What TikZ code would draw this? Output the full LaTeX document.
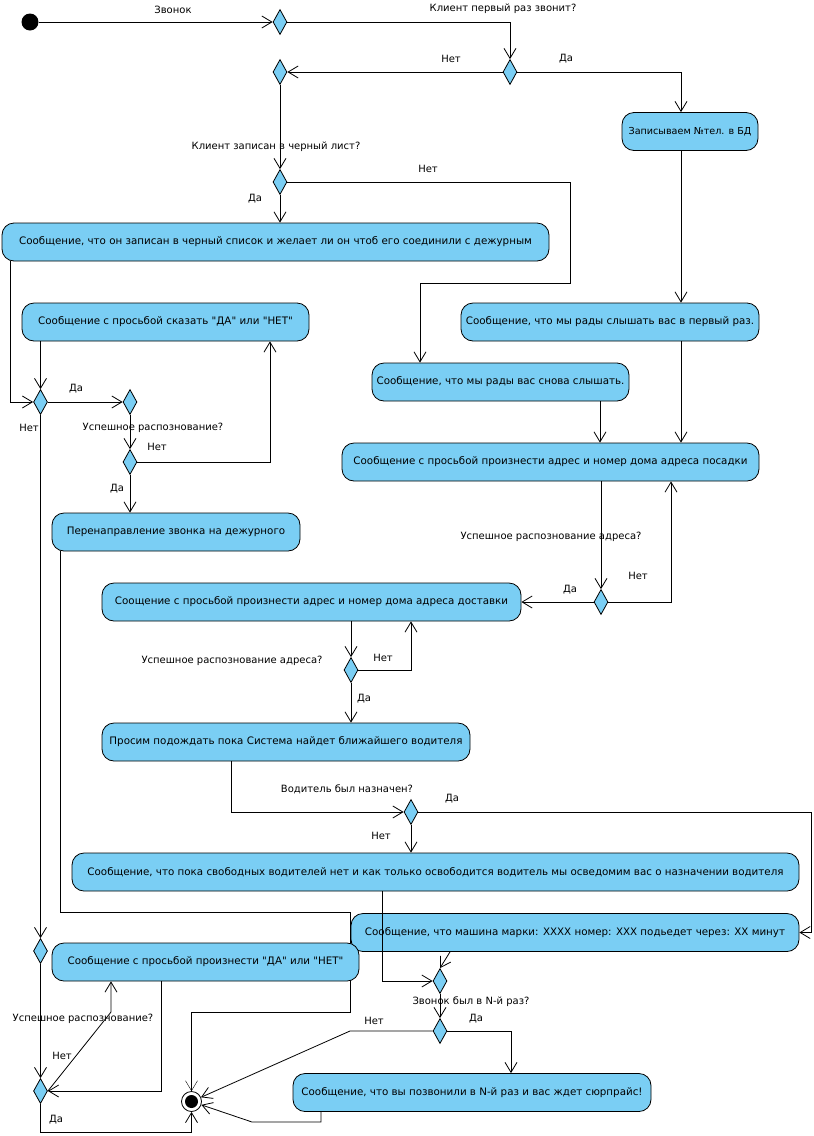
\documentclass[tikz,border=0pt]{standalone}
\usepackage{fontspec}
\setmainfont{DejaVu Sans}[Ligatures=TeXOff]
\usetikzlibrary{shapes.geometric,arrows.meta,backgrounds}
\definecolor{actblue}{RGB}{122,206,244}

\begin{document}
\begin{tikzpicture}[x=1pt,y=-1pt,line width=0.8pt,
  act/.style={draw, fill=actblue, rounded corners=12pt, minimum height=38pt, inner sep=0pt, font=\fontsize{10.3}{12}\selectfont},
  dec/.style={diamond, draw, fill=actblue, minimum width=14pt, minimum height=25pt, inner sep=0pt},
  flow/.style={-{Straight Barb[length=10pt,width=12pt]}},
  guard/.style={inner sep=1pt, font=\fontsize{10}{11}\selectfont}]
  \useasboundingbox (0,0) rectangle (814,1136);

  \node[circle, fill=black, minimum size=17pt, inner sep=0pt] (init) at (30,22) {};
  \node[circle, draw, fill=white, minimum size=20pt, inner sep=0pt] (done) at (191.5,1101.5) {};
  \fill (done.center) circle (6.5pt);

  \node[dec] (qcall)    at (280,22) {};
  \node[dec] (qfirst)   at (510,72) {};
  \node[dec] (qmerge)   at (280,72) {};
  \node[dec] (qblack)   at (280,182) {};
  \node[dec] (qans)     at (40.5,402) {};
  \node[dec] (qokmerge) at (130,402) {};
  \node[dec] (qok)      at (130,462) {};
  \node[dec] (qpick)    at (601,602) {};
  \node[dec] (qdest)    at (351,670) {};
  \node[dec] (qdrv)     at (411,812) {};
  \node[dec] (qans2)    at (40.5,951) {};
  \node[dec] (qnmerge)  at (440,981) {};
  \node[dec] (qnth)     at (440,1031) {};
  \node[dec] (qok2)     at (40.5,1091) {};

  \node[act, minimum width=136pt, font=\fontsize{9.6}{12}\selectfont] (save) at (690,131.5) {Записываем №тел. в БД};
  \node[act, minimum width=547pt] (black)  at (275.5,242) {Сообщение, что он записан в черный список и желает ли он чтоб его соединили с дежурным};
  \node[act, minimum width=287pt] (yesno)  at (165.5,322) {Сообщение с просьбой сказать "ДА" или "НЕТ"};
  \node[act, minimum width=248pt] (fwd)    at (176,532) {Перенаправление звонка на дежурного};
  \node[act, minimum width=257pt] (again)  at (500.5,382) {Сообщение, что мы рады вас снова слышать.};
  \node[act, minimum width=298pt] (first)  at (610,322) {Сообщение, что мы рады слышать вас в первый раз.};
  \node[act, minimum width=417pt] (pickup) at (550.5,462) {Сообщение с просьбой произнести адрес и номер дома адреса посадки};
  \node[act, minimum width=419pt] (dest)   at (311.5,602) {Соощение с просьбой произнести адрес и номер дома адреса доставки};
  \node[act, minimum width=368pt] (wait)   at (286,742) {Просим подождать пока Система найдет ближайшего водителя};
  \node[act, minimum width=727pt] (nodrv)  at (435.5,872) {Сообщение, что пока свободных водителей нет и как только освободится водитель мы осведомим вас о назначении водителя};
  \node[act, minimum width=448pt] (car)    at (575,932.5) {Сообщение, что машина марки: XXXX номер: XXX подьедет через: XX минут};
  \node[act, minimum width=307pt] (yesno2) at (205.5,962) {Сообщение с просьбой произнести "ДА" или "НЕТ"};
  \node[act, minimum width=358pt] (gift)   at (472,1092.5) {Сообщение, что вы позвонили в N-й раз и вас ждет сюрпрайс!};

  \begin{scope}[on background layer]
    \draw[flow] (60,0 |- fwd.south) |- (350,912) |- (done |- 0,1012) -- (done);
  \end{scope}

  \draw[flow] (init) -- (qcall);
  \draw[flow] (qcall) -| (qfirst);
  \draw[flow] (qfirst) -- (qmerge);
  \draw[flow] (qfirst) -| (681,0 |- save.north);
  \draw[flow] (qmerge) -- (qblack);
  \draw[flow] (qblack) -- (qblack |- black.north);
  \draw[flow] (qblack) -| (570,283) -| (420,0 |- again.north);
  \draw[flow] (10,0 |- black.south) |- (qans);
  \draw[flow] (qans |- yesno.south) -- (qans);
  \draw[flow] (qans) -- (qokmerge);
  \draw[flow] (qans) -- (qans2);
  \draw[flow] (qokmerge) -- (qok);
  \draw[flow] (qok) -| (270,0 |- yesno.south);
  \draw[flow] (qok) -- (qok |- fwd.north);
  \draw[flow] (681,0 |- save.south) -- (681,0 |- first.north);
  \draw[flow] (681,0 |- first.south) -- (681,0 |- pickup.north);
  \draw[flow] (600,0 |- again.south) -- (600,0 |- pickup.north);
  \draw[flow] (qpick |- pickup.south) -- (qpick);
  \draw[flow] (qpick) -| (671,0 |- pickup.south);
  \draw[flow] (qpick) -- (dest);
  \draw[flow] (qdest |- dest.south) -- (qdest);
  \draw[flow] (qdest) -| (411,0 |- dest.south);
  \draw[flow] (qdest) -- (qdest |- wait.north);
  \draw[flow] (231,0 |- wait.south) |- (qdrv);
  \draw[flow] (qdrv) -| (811,0 |- car.east) -- (car.east);
  \draw[flow] (qdrv) -- (qdrv |- nodrv.north);
  \draw[flow] (382,0 |- nodrv.south) |- (qnmerge);
  \draw[flow] (450,0 |- car.south) -- (qnmerge.north);
  \draw[flow] (qnmerge) -- (qnth);
  \draw[flow] (qnth) -- (350,1031) -- (done);
  \draw[flow] (qnth) -| (511,0 |- gift.north);
  \draw[flow] (321,0 |- gift.south) |- (252,1122) -- (done);
  \draw[flow] (qans2) -- (qok2);
  \draw[flow] (qok2.east) -- (111,1012) -- (111,0 |- yesno2.south);
  \draw[flow] (161,0 |- yesno2.south) |- (qok2.east);
  \draw[flow] (qok2) |- (done |- 0,1132) -- (done);

  \node[guard] (gcall)   at (173,10)   {Звонок};
  \node[guard] (gfirst)  at (503,9)    {Клиент первый раз звонит?};
  \node[guard] (gfno)    at (451,59)   {Нет};
  \node[guard] (gfyes)   at (566,59)   {Да};
  \node[guard] (gblack)  at (276,147)  {Клиент записан в черный лист?};
  \node[guard] (gbno)    at (428,169)  {Нет};
  \node[guard] (gbyes)   at (255,199)  {Да};
  \node[guard] (gayes)   at (76,389)   {Да};
  \node[guard] (gano)    at (29,428)   {Нет};
  \node[guard] (gok)     at (153,428)  {Успешное распознование?};
  \node[guard] (gokno)   at (157,447)  {Нет};
  \node[guard] (gokyes)  at (117,489)  {Да};
  \node[guard] (gpick)   at (551,537)  {Успешное распознование адреса?};
  \node[guard] (gpno)    at (638,576)  {Нет};
  \node[guard] (gpyes)   at (570,590)  {Да};
  \node[guard] (gdest)   at (232,661)  {Успешное распознование адреса?};
  \node[guard] (gdno)    at (383,658)  {Нет};
  \node[guard] (gdyes)   at (364,699)  {Да};
  \node[guard] (gdrv)    at (347,789)  {Водитель был назначен?};
  \node[guard] (gdryes)  at (452,799)  {Да};
  \node[guard] (gdrno)   at (381,836)  {Нет};
  \node[guard] (gnth)    at (471,1002) {Звонок был в N-й раз?};
  \node[guard] (gnno)    at (374,1021) {Нет};
  \node[guard] (gnyes)   at (476,1019) {Да};
  \node[guard] (gok2)    at (83,1019)  {Успешное распознование?};
  \node[guard] (gok2no)  at (62,1056)  {Нет};
  \node[guard] (gok2yes) at (56,1120)  {Да};
\end{tikzpicture}
\end{document}
